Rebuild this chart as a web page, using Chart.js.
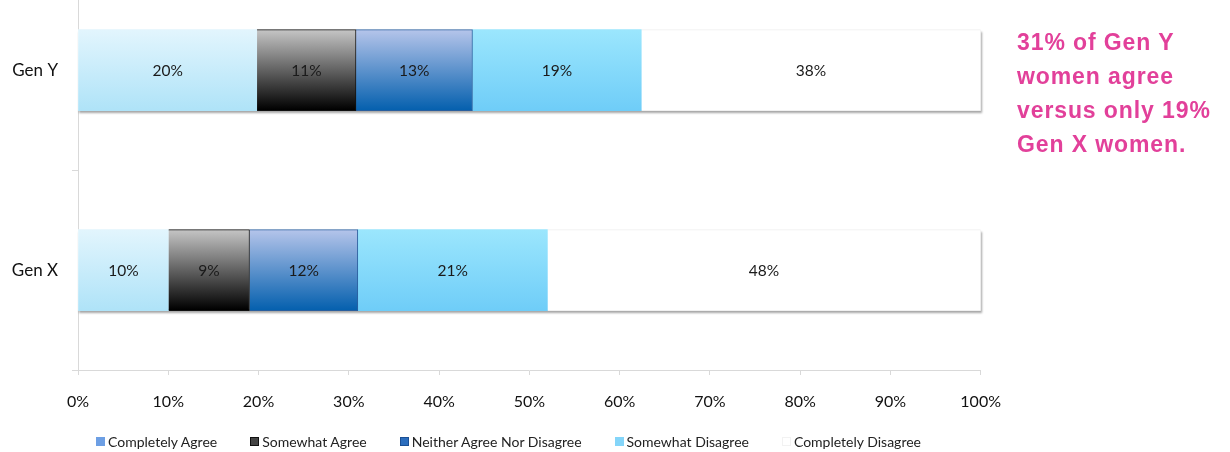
<!DOCTYPE html>
<html>
<head>
<meta charset="utf-8">
<script src="https://cdn.jsdelivr.net/npm/chart.js@4.4.0/dist/chart.umd.min.js"></script>
<style>
  html, body { margin: 0; padding: 0; background: #fff; overflow: hidden; }
  body { width: 1230px; height: 452px; position: relative; }
  #wrap { position: absolute; left: 0; top: -54px; width: 1018px; height: 506px; }
  #note {
    position: absolute; left: 1017px; top: 25px;
    font-family: "Liberation Sans", Arial, sans-serif; font-weight: bold;
    font-size: 23px; line-height: 34px; letter-spacing: 0.9px; color: #e2409a;
  }
  #legend {
    position: absolute; left: 96px; top: 432px; height: 18px;
    display: flex; align-items: center; gap: 33px;
    font-family: Lato, "Open Sans", sans-serif; font-size: 14px; color: #222;
  }
  #legend .item { display: flex; align-items: center; white-space: nowrap; }
  #legend .box { width: 9px; height: 9px; margin-right: 3px; box-sizing: border-box; border: 1px solid; }
</style>
</head>
<body>
<div id="wrap"><canvas id="myChart"></canvas></div>
<div id="note">31% of Gen Y<br>women agree<br>versus only 19%<br>Gen X women.</div>
<div id="legend"></div>
<script>
document.addEventListener('DOMContentLoaded', function() {
  const ctx = document.getElementById('myChart').getContext('2d');

  // categories and series (percent of respondents)
  const categories = ['Gen Y', 'Gen X'];
  const completelyAgree = [19.8, 10];
  const somewhatAgree = [11.0, 9];
  const neither = [12.9, 12];
  const somewhatDisagree = [18.7, 21];
  const completelyDisagree = [37.6, 48];
  const shownLabels = [[20, 10], [11, 9], [13, 12], [19, 21], [38, 48]];
  const xTicks = [0, 10, 20, 30, 40, 50, 60, 70, 80, 90, 100];

  const font = 'Lato, "Open Sans", sans-serif';

  // vertical gradient centred on the bar of the current category
  function grad(top, bottom) {
    return function(c) {
      const chart = c.chart;
      const ya = chart.scales.y;
      if (!ya || c.dataIndex === undefined) return bottom;
      const yc = ya.getPixelForValue(c.dataIndex);
      if (!isFinite(yc)) return bottom;
      const g = chart.ctx.createLinearGradient(0, yc - 40, 0, yc + 40);
      g.addColorStop(0, top);
      g.addColorStop(1, bottom);
      return g;
    };
  }

  // soft shadow under the full stacked bar
  const barShadow = {
    id: 'barShadow',
    beforeDatasetsDraw(chart) {
      const c = chart.ctx, xa = chart.scales.x, ya = chart.scales.y;
      c.save();
      categories.forEach((_, i) => {
        const yc = ya.getPixelForValue(i);
        const x0 = xa.getPixelForValue(0), x1 = xa.getPixelForValue(100);
        c.shadowColor = 'rgba(0,0,0,0.35)';
        c.shadowBlur = 2;
        c.shadowOffsetX = 1;
        c.shadowOffsetY = 2;
        c.fillStyle = '#fff';
        c.fillRect(x0, yc - 40.5, x1 - x0, 81);
      });
      c.restore();
    }
  };

  // percentage text in the middle of each segment
  const segLabels = {
    id: 'segLabels',
    afterDatasetsDraw(chart) {
      const c = chart.ctx;
      c.save();
      c.font = '15.5px ' + font;
      c.fillStyle = '#1a1a1a';
      c.textAlign = 'center';
      c.textBaseline = 'middle';
      chart.data.datasets.forEach((ds, di) => {
        chart.getDatasetMeta(di).data.forEach((bar, i) => {
          const cx = (bar.x + bar.base) / 2;
          c.fillText(shownLabels[di][i] + '%', cx, bar.y + 1);
        });
      });
      c.restore();
    }
  };

  const legendIcons = ['#6d9fe4', '#444444', '#2b6dbd', '#84d5f9', '#ffffff'];
  const legendBorders = ['#6d9fe4', '#111111', '#1a4f95', '#84d5f9', '#f2f2f2'];

  const chart = new Chart(ctx, {
    type: 'bar',
    data: {
      labels: categories,
      datasets: [
        { label: 'Completely Agree', data: completelyAgree,
          backgroundColor: grad('#e2f5fd', '#afe3f8'), borderWidth: 0 },
        { label: 'Somewhat Agree', data: somewhatAgree,
          backgroundColor: grad('#c4c4c4', '#000000'), borderColor: '#111', borderWidth: 1 },
        { label: 'Neither Agree Nor Disagree', data: neither,
          backgroundColor: grad('#b4c4ea', '#0560ae'), borderColor: '#2a5f9e', borderWidth: 1 },
        { label: 'Somewhat Disagree', data: somewhatDisagree,
          backgroundColor: grad('#9be6fd', '#6fcdf8'), borderWidth: 0 },
        { label: 'Completely Disagree', data: completelyDisagree,
          backgroundColor: '#ffffff', borderColor: '#f0f0f0', borderWidth: 1 }
      ]
    },
    options: {
      indexAxis: 'y',
      responsive: true,
      maintainAspectRatio: false,
      animation: false,
      barThickness: 81,
      layout: { padding: { left: 0, right: 3, top: 0, bottom: 0 } },
      scales: {
        x: {
          stacked: true,
          min: 0,
          max: 100,
          afterBuildTicks: (s) => { s.ticks = xTicks.map(v => ({ value: v })); },
          afterFit: (s) => { s.height = 82; },
          ticks: { callback: v => v + '%', color: '#111', font: { family: font, size: 16 }, padding: 17, maxRotation: 0 },
          grid: { drawOnChartArea: false, tickLength: 5, color: '#d9d9d9' },
          border: { color: '#d9d9d9' }
        },
        y: {
          stacked: true,
          afterFit: (s) => { s.width = 78; },
          ticks: { color: '#111', font: { family: font, size: 17 }, padding: 14 },
          grid: { drawOnChartArea: false, tickLength: 6, color: '#d9d9d9', offset: true },
          border: { color: '#d9d9d9' }
        }
      },
      plugins: {
        legend: { display: false },
        tooltip: { enabled: false }
      }
    },
    plugins: [barShadow, segLabels]
  });

  // legend row under the chart, built from the dataset labels
  const legendEl = document.getElementById('legend');
  chart.data.datasets.forEach((ds, i) => {
    const item = document.createElement('div');
    item.className = 'item';
    const box = document.createElement('span');
    box.className = 'box';
    box.style.background = legendIcons[i];
    box.style.borderColor = legendBorders[i];
    item.appendChild(box);
    item.appendChild(document.createTextNode(ds.label));
    legendEl.appendChild(item);
  });
});
</script>
</body>
</html>
